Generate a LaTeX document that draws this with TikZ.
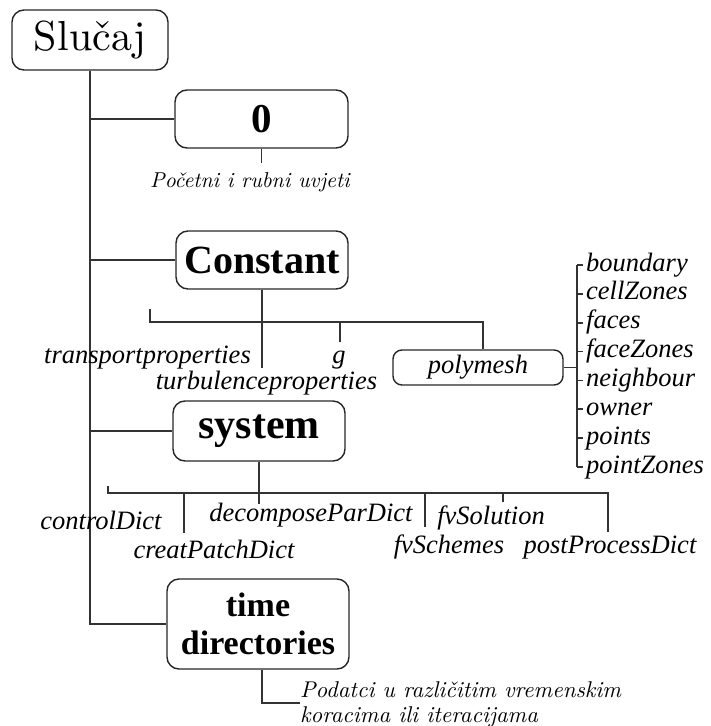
\documentclass[tikz,border=0pt]{standalone}
\usepackage{fontspec}
\setmainfont{lmroman10-regular.otf}[ItalicFont=lmroman10-italic.otf, BoldFont=lmroman10-bold.otf]
\newfontfamily\tnr{Liberation Serif}
\begin{document}
\begin{tikzpicture}[x=1pt,y=-1pt,
  box/.style={draw=black!85, rounded corners=12pt, line width=1.4pt, inner sep=0pt, align=center},
  conn/.style={line width=1.6pt, draw=black!80},
  lab/.style={font=\tnr\itshape\fontsize{26.5}{29}\selectfont, inner sep=0pt, text height=18pt, text depth=6pt},
  big/.style={font=\tnr\bfseries\fontsize{41}{45}\selectfont}]
\useasboundingbox (0,0) rectangle (710,726);

% main boxes
\node[box, minimum width=156pt, minimum height=60pt, font=\fontsize{42}{46}\selectfont] (slucaj) at (90,40) {Slučaj};
\node[box, big, minimum width=173pt, minimum height=58pt] (zero) at (261.5,119) {0};
\node[box, big, font=\tnr\bfseries\fontsize{40}{44}\selectfont, minimum width=172pt, minimum height=58pt] (constant) at (262,260) {Constant};
\node[box, big, font=\tnr\bfseries\fontsize{42}{46}\selectfont, minimum width=172pt, minimum height=60pt] (system) at (259,431) {system};
\node[box, font=\tnr\bfseries\fontsize{34}{38}\selectfont, minimum width=182pt, minimum height=90pt] (time) at (258,624) {time\\directories};
\node[box, rounded corners=9pt, lab, minimum width=170pt, minimum height=35pt] (polymesh) at (478,367.5) {polymesh};

% trunk
\draw[conn] (slucaj.south) |- (time.west);
\draw[conn] (slucaj.south |- zero.west) -- (zero.west);
\draw[conn] (slucaj.south |- constant.west) -- (constant.west);
\draw[conn] (slucaj.south |- system.west) -- (system.west);

% 0
\node[inner sep=0pt, font=\itshape\fontsize{21.5}{24}\selectfont] (pocetni) at (250,182) {Početni i rubni uvjeti};
\draw[conn] (zero.south) -- ++(0,14);

% constant
\node[lab] (transp) at (147.5,357) {transportproperties};
\node[lab] (turb) at (266.5,383) {turbulenceproperties};
\node[lab] (g) at (339,357) {g};
\coordinate (cbL) at (150,322);
\coordinate (cbR) at (483,322);
\coordinate (cbG) at (340,322);
\draw[conn] (constant.south) -- ++(0,78);
\draw[conn] ([yshift=13pt]cbL) -- (cbL) -- (cbR) -- (cbR |- polymesh.north);
\draw[conn] (cbG) -- ++(0,20);

% polymesh list
\coordinate (pl) at (577,367.5);
\draw[conn] (polymesh.east) -- (pl);
\coordinate (ltop) at (577,265);
\coordinate (lbot) at (577,467);
\draw[conn] (ltop) -- (lbot);
\foreach \t [count=\i from 0] in {boundary,cellZones,faces,faceZones,neighbour,owner,points,pointZones} {
  \node[lab, anchor=west] (it\i) at (586,265+28.857*\i) {\t};
  \draw[conn] (577,265+28.857*\i) -- ++(6,0);
}

% system
\node[lab] (control) at (101,523) {controlDict};
\node[lab] (creat) at (214,552) {creatPatchDict};
\node[lab] (decomp) at (311,515) {decomposeParDict};
\node[lab] (fvsol) at (491,518) {fvSolution};
\node[lab] (fvsch) at (449,547) {fvSchemes};
\node[lab] (post) at (610,547) {postProcessDict};
\coordinate (sbL) at (108,493);
\coordinate (sbR) at (608,493);
\draw[conn] (system.south) -- ++(0,42);
\draw[conn] ([yshift=7pt]sbL) -- (sbL) -- (sbR) -- ++(0,39);
\draw[conn] (184,493) -- ++(0,40);
\draw[conn] (425,493) -- ++(0,34);
\draw[conn] (503,493) -- ++(0,9);

% time
\node[inner sep=0pt, anchor=west, align=left, font=\itshape\fontsize{22.8}{25}\selectfont] (podatci) at (300,704) {Podatci u različitim vremenskim\\koracima ili iteracijama};
\coordinate (tc) at (262,703);
\draw[conn] ([xshift=4pt]time.south) -- (tc) -- (tc -| podatci.west);
\end{tikzpicture}
\end{document}
